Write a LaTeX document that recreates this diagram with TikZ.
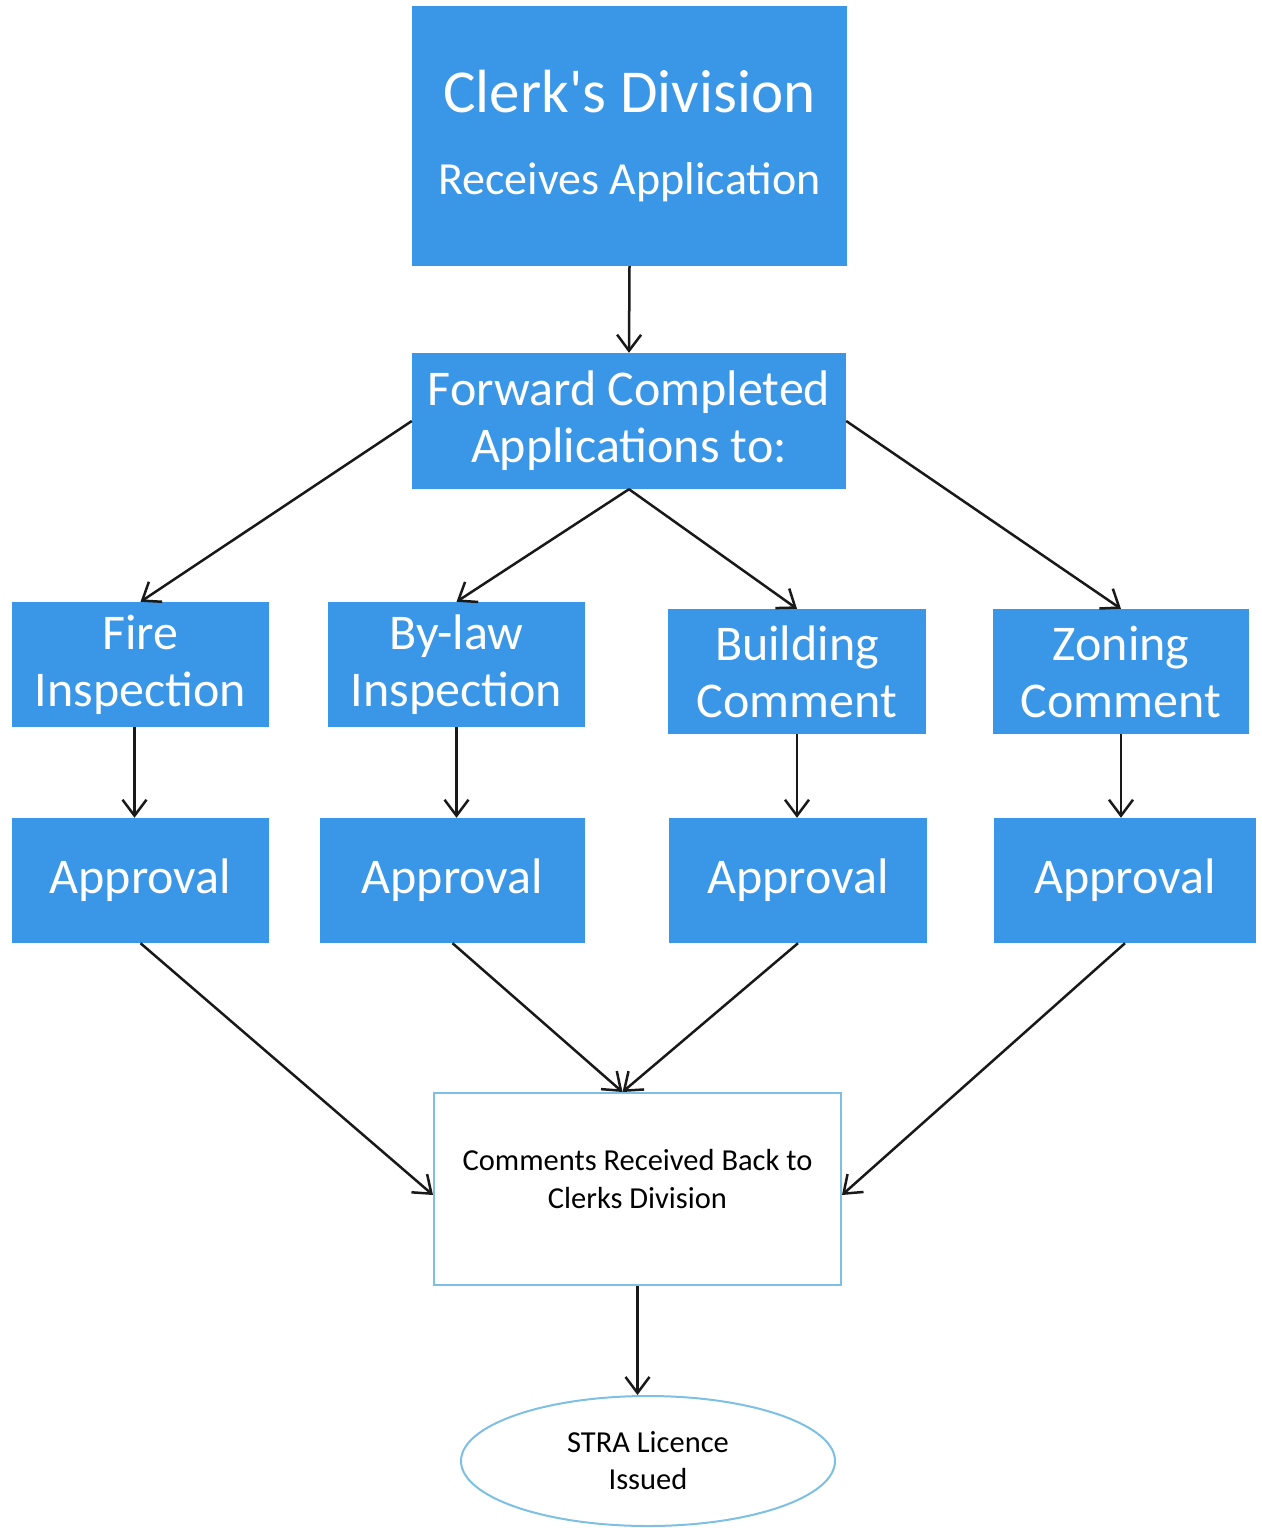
\documentclass[tikz,border=0pt]{standalone}
\usepackage{fontspec}
\setmainfont{Carlito}
\usetikzlibrary{arrows.meta,shapes.geometric}
\definecolor{boxblue}{RGB}{58,150,230}
\definecolor{lineblue}{RGB}{125,192,228}
\begin{document}
\begin{tikzpicture}[x=1pt,y=-1pt,
  bluebox/.style={rectangle, fill=boxblue, text=white, inner sep=0pt, align=center,
    minimum width=257pt, minimum height=125pt, font=\fontsize{50}{57}\selectfont},
  arr/.style={draw=black!90, line width=2.5pt, -{Straight Barb[length=16pt,width=24pt]}},
]
\useasboundingbox[fill=white] (0,0) rectangle (1261,1528);
% top
\node[bluebox, minimum width=435pt, minimum height=260pt, font=\fontsize{46}{46}\selectfont] (clerk) at (629.5,136)
  {{\fontsize{61}{61}\selectfont Clerk\textquotesingle s Division}\\[36pt]Receives Application};
\node[bluebox, minimum width=434pt, minimum height=136pt] (fwd) at (629,421) {Forward Completed\\Applications to:};
% first row
\node[bluebox] (fire) at (140.5,664.5) {Fire\\Inspection};
\node[bluebox] (bylaw) at (456.5,664.5) {By-law\\Inspection};
\node[bluebox, minimum width=258pt] (build) at (797,671.5) {Building\\Comment};
\node[bluebox, minimum width=256pt] (zoning) at (1121,671.5) {Zoning\\Comment};
% approvals
\node[bluebox] (app1) at (140.5,880.5) {Approval};
\node[bluebox, minimum width=265pt] (app2) at (452.5,880.5) {Approval};
\node[bluebox, minimum width=258pt] (app3) at (798,880.5) {Approval};
\node[bluebox, minimum width=262pt] (app4) at (1125,880.5) {Approval};
% bottom
\node[rectangle, draw=lineblue, line width=2pt, fill=white, minimum width=407pt, minimum height=192pt,
  inner sep=0pt, align=center, text depth=20pt, font=\fontsize{30.5}{38}\selectfont] (comm) at (637.5,1189)
  {Comments Received Back to\\Clerks Division};
\node[ellipse, draw=lineblue, line width=2pt, fill=white, minimum width=374pt, minimum height=130pt,
  inner sep=0pt, align=center, font=\fontsize{30.5}{37}\selectfont] (lic) at (648,1461)
  {STRA Licence\\Issued};
% connectors
\draw[arr] (clerk.south) -- (fwd.north);
\draw[arr] (fwd.west) -- (fire.north);
\draw[arr] (fwd.south) -- (bylaw.north);
\draw[arr] (fwd.south) -- (build.north);
\draw[arr] (fwd.east) -- (zoning.north);
\draw[arr] ([xshift=-6pt]fire.south) -- ([xshift=-6pt]app1.north);
\draw[arr] (bylaw.south) -- (bylaw.south |- app2.north);
\draw[arr] (build.south) -- (build.south |- app3.north);
\draw[arr] (zoning.south) -- (zoning.south |- app4.north);
\draw[arr] (app1.south) -- ([yshift=-6pt]comm.west);
\draw[arr] (app2.south) -- ([xshift=-15pt]comm.north);
\draw[arr] (app3.south) -- ([xshift=-15pt]comm.north);
\draw[arr] (app4.south) -- ([yshift=-6pt]comm.east);
\draw[arr] (comm.south) -- (comm.south |- lic.north);
\end{tikzpicture}
\end{document}
